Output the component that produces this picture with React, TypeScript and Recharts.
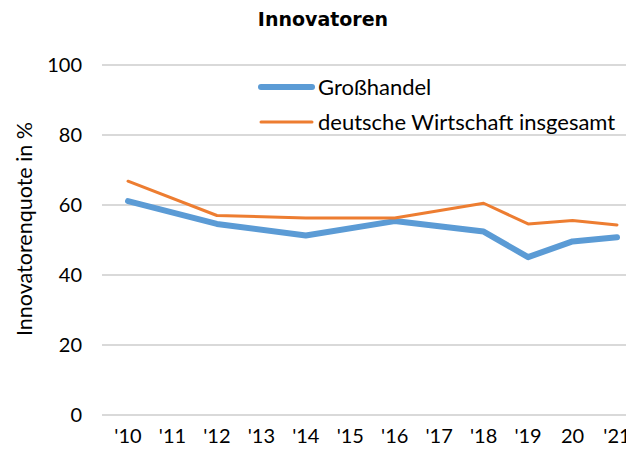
import { CartesianGrid, Line, LineChart, XAxis, YAxis } from 'recharts'

const years = ["'10", "'11", "'12", "'13", "'14", "'15", "'16", "'17", "'18", "'19", '20', "'21"]
const grosshandel = [61.1, null, 54.6, null, 51.3, null, 55.4, null, 52.4, 45.1, 49.6, 50.8]
const wirtschaft = [66.8, null, 57.0, null, 56.3, null, 56.3, null, 60.5, 54.6, 55.6, 54.3]
const yTicks = [0, 20, 40, 60, 80, 100]

const data = years.map((year, i) => ({
  year,
  grosshandel: grosshandel[i],
  wirtschaft: wirtschaft[i],
}))

const font = 'Lato, "Open Sans", sans-serif'

const series = [
  { name: 'Großhandel', color: '#5B9BD5', width: 6 },
  { name: 'deutsche Wirtschaft insgesamt', color: '#ED7D31', width: 3 },
]

// legend sits inside the plot, drawn outside recharts so it takes no space
function LegendBox() {
  return (
    <div
      style={{
        position: 'absolute',
        left: 254,
        top: 69,
        fontFamily: font,
        fontSize: 22,
        color: '#000',
      }}
    >
      {series.map((s) => (
        <div key={s.name} style={{ display: 'flex', alignItems: 'center', height: 35 }}>
          <svg width={64} height={10}>
            <line
              x1={7}
              x2={58}
              y1={5}
              y2={5}
              stroke={s.color}
              strokeWidth={s.width}
              strokeLinecap="round"
            />
          </svg>
          <span>{s.name}</span>
        </div>
      ))}
    </div>
  )
}

export default function App() {
  return (
    <div style={{ position: 'relative', width: 634, height: 456, margin: -8, background: '#fff' }}>
      <div
        style={{
          position: 'absolute',
          top: 8,
          left: 0,
          width: 646,
          textAlign: 'center',
          fontFamily: '"DejaVu Sans", Verdana, sans-serif',
          fontWeight: 'bold',
          fontSize: 19,
        }}
      >
        Innovatoren
      </div>
      <LineChart
        width={634}
        height={456}
        data={data}
        margin={{ top: 65, right: 0, left: 0, bottom: 0 }}
      >
        <CartesianGrid vertical={false} stroke="#D9D9D9" strokeWidth={2} />
        <XAxis
          dataKey="year"
          scale="point"
          padding={{ left: 26, right: 17 }}
          axisLine={false}
          tickLine={false}
          tickSize={0}
          tickMargin={14}
          height={41}
          interval={0}
          tick={{ fill: '#000', fontSize: 20, fontFamily: font }}
        />
        <YAxis
          domain={[0, 100]}
          ticks={yTicks}
          width={102}
          axisLine={false}
          tickLine={false}
          tickSize={0}
          tickMargin={20}
          tick={{ fill: '#000', fontSize: 20, fontFamily: font }}
          label={() => (
            <text
              x={24}
              y={229}
              transform="rotate(-90 24 229)"
              textAnchor="middle"
              dominantBaseline="central"
              fontSize={21.5}
              fontFamily={font}
              fill="#000"
            >
              Innovatorenquote in %
            </text>
          )}
        />
        <Line
          type="linear"
          dataKey="grosshandel"
          name="Großhandel"
          stroke="#5B9BD5"
          strokeWidth={6}
          strokeLinecap="round"
          strokeLinejoin="round"
          dot={false}
          activeDot={false}
          connectNulls
          isAnimationActive={false}
        />
        <Line
          type="linear"
          dataKey="wirtschaft"
          name="deutsche Wirtschaft insgesamt"
          stroke="#ED7D31"
          strokeWidth={3}
          strokeLinecap="round"
          strokeLinejoin="round"
          dot={false}
          activeDot={false}
          connectNulls
          isAnimationActive={false}
        />
      </LineChart>
      <LegendBox />
    </div>
  )
}
